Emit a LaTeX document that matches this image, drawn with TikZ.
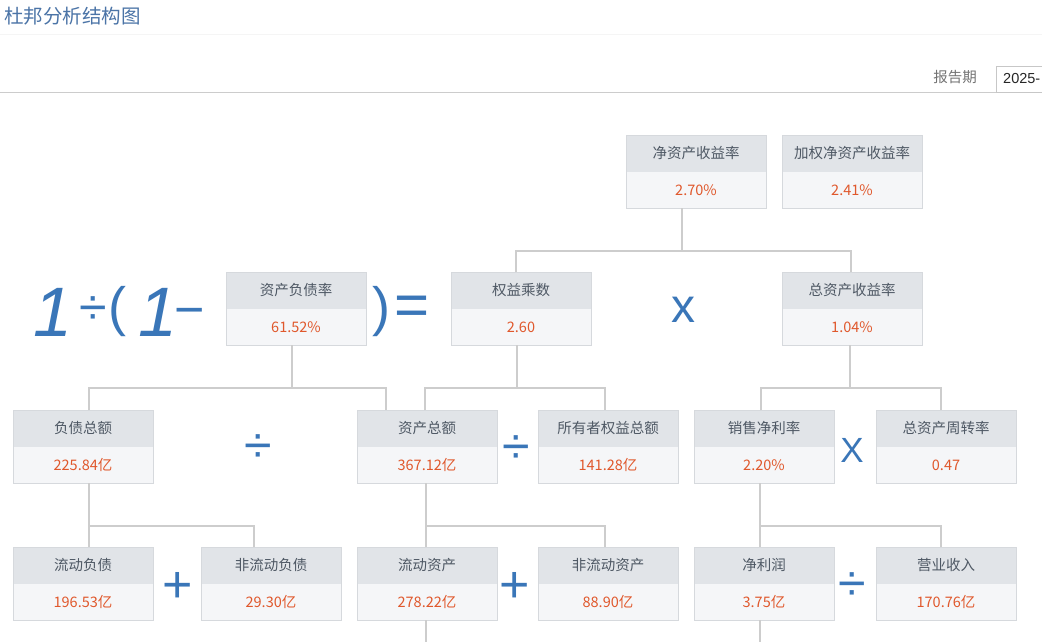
\documentclass[tikz,border=0pt]{standalone}
\usepackage{fontspec}
\setmainfont{Liberation Sans}
\newfontfamily\cjk{Noto Sans CJK SC}
\usetikzlibrary{positioning}

\definecolor{hdfill}{HTML}{E1E4E8}
\definecolor{valfill}{HTML}{F5F6F8}
\definecolor{boxrim}{HTML}{D6D9DD}
\definecolor{lbl}{HTML}{4E5864}
\definecolor{num}{HTML}{E0582C}
\definecolor{wire}{HTML}{CDCDCD}
\definecolor{opblue}{HTML}{3A76B8}
\definecolor{ttl}{HTML}{4B74A7}

% one box of the tree: name, centre x, top y, label, value
\newcommand{\dpbox}[5]{%
  \node[boxhead] (#1) at (#2,#3) {\raisebox{2pt}{#4}};
  \node[boxval, below=0pt of #1] (#1v) {#5};
  \draw[boxedge] (#1.north west) rectangle (#1v.south east);
}

\begin{document}
\begin{tikzpicture}[x=1pt, y=-1pt,
  boxhead/.style={anchor=north, minimum width=140pt, minimum height=37pt, inner sep=0pt, outer sep=0pt,
    fill=hdfill, text=lbl, font=\cjk\fontsize{14.5}{17}\selectfont},
  boxval/.style={minimum width=140pt, minimum height=36pt, inner sep=0pt, outer sep=0pt,
    fill=valfill, text=num, font=\cjk\fontsize{14.5}{17}\selectfont},
  boxedge/.style={draw=boxrim, line width=1pt},
  link/.style={draw=wire, line width=2.6pt},
  opsign/.style={text=opblue, inner sep=0pt},
  formula/.style={text=opblue, inner sep=0pt}]

\fill[white] (0,0) rectangle (1042,641);
\useasboundingbox (0,0) rectangle (1042,641);

% page head
\node[anchor=west, text=ttl, inner sep=0pt, font=\cjk\fontsize{19.5}{22}\selectfont] (title) at (4,16) {杜邦分析结构图};
\draw[color=black!4, line width=1pt] (0,34) -- (1042,34);
\draw[color=black!20, line width=1pt] (0,92) -- (1042,92);
\node[text=black!55, inner sep=0pt, font=\cjk\fontsize{14.5}{17}\selectfont] (period) at (955,77) {报告期};
\draw[color=black!22, line width=1pt] (996,66) rectangle (1060,92);
\node[anchor=west, text=black!85, inner sep=0pt, font=\fontsize{14.5}{17}\selectfont] (year) at (1003,79) {2025-};

% boxes
\dpbox{roe}{696}{135}{净资产收益率}{2.70\%}
\dpbox{wroe}{852}{135}{加权净资产收益率}{2.41\%}
\dpbox{der}{296}{272}{资产负债率}{61.52\%}
\dpbox{em}{521}{272}{权益乘数}{2.60}
\dpbox{roa}{852}{272}{总资产收益率}{1.04\%}
\dpbox{debt}{83}{410}{负债总额}{225.84亿}
\dpbox{assets}{427}{410}{资产总额}{367.12亿}
\dpbox{equity}{608}{410}{所有者权益总额}{141.28亿}
\dpbox{npm}{764}{410}{销售净利率}{2.20\%}
\dpbox{turn}{946}{410}{总资产周转率}{0.47}
\dpbox{cl}{83}{547}{流动负债}{196.53亿}
\dpbox{ncl}{271}{547}{非流动负债}{29.30亿}
\dpbox{ca}{427}{547}{流动资产}{278.22亿}
\dpbox{nca}{608}{547}{非流动资产}{88.90亿}
\dpbox{np}{764}{547}{净利润}{3.75亿}
\dpbox{rev}{946}{547}{营业收入}{170.76亿}

% connectors
\draw[link] ([xshift=-14pt]roev.south) -- ++(0,43);
\draw[link] ([xshift=-5pt]em.north) -- ++(0,-21) -| ([xshift=-1pt]roa.north);
\draw[link] ([xshift=-4pt]derv.south) -- ++(0,43);
\draw[link] ([xshift=6pt]debt.north) -- ++(0,-22) -| ([xshift=-41pt]assets.north);
\draw[link] ([xshift=-4pt]emv.south) -- ++(0,43);
\draw[link] ([xshift=-2pt]assets.north) -- ++(0,-22) -| ([xshift=-3pt]equity.north);
\draw[link] ([xshift=-2pt]roav.south) -- ++(0,43);
\draw[link] ([xshift=-3pt]npm.north) -- ++(0,-22) -| ([xshift=-5pt]turn.north);
\draw[link] ([xshift=6pt]debtv.south) -- ([xshift=6pt]cl.north);
\draw[link] ([xshift=6pt]cl.north) ++(0,-21) -| ([xshift=-17pt]ncl.north);
\draw[link] ([xshift=-1pt]assetsv.south) -- ([xshift=-1pt]ca.north);
\draw[link] ([xshift=-1pt]ca.north) ++(0,-21) -| ([xshift=-3pt]nca.north);
\draw[link] ([xshift=-4pt]npmv.south) -- ([xshift=-4pt]np.north);
\draw[link] ([xshift=-4pt]np.north) ++(0,-21) -| ([xshift=-5pt]rev.north);
\coordinate (catail) at (426,645);
\coordinate (nptail) at (760,645);
\draw[link] ([xshift=-1pt]cav.south) -- (catail);
\draw[link] ([xshift=-4pt]npv.south) -- (nptail);

% formula 1/(1-x)=
\node[formula, font=\itshape\fontsize{70}{70}\selectfont] (fone) at (53,312) {1};
\node[formula, anchor=base, font=\fontsize{50}{50}\selectfont] (fdiv) at (93,324) {÷};
\node[formula, font=\fontsize{54}{54}\selectfont] (fopen) at (117,312) {(};
\node[formula, font=\itshape\fontsize{70}{70}\selectfont] (fonebis) at (158,312) {1};
\node[formula, anchor=base, font=\fontsize{52}{52}\selectfont] (fminus) at (190,327) {−};
\node[formula, font=\fontsize{54}{54}\selectfont] (fclose) at (381,312) {)};
\node[formula, font=\fontsize{60}{60}\selectfont] (fequal) at (412,311) {=};

% operators
\node[opsign, font=\fontsize{48}{48}\selectfont] (optimes) at (683,310) {x};
\node[opsign, font=\fontsize{50}{50}\selectfont] (opdiva) at (258,449) {÷};
\node[opsign, font=\fontsize{50}{50}\selectfont] (opdivb) at (516,450) {÷};
\node[opsign, font=\fontsize{35}{35}\selectfont] (optimesb) at (852,450) {X};
\node[opsign, font=\fontsize{52}{52}\selectfont] (opplusa) at (178,587) {+};
\node[opsign, font=\fontsize{52}{52}\selectfont] (opplusb) at (515,587) {+};
\node[opsign, font=\fontsize{50}{50}\selectfont] (opdivc) at (852,587) {÷};
\end{tikzpicture}
\end{document}
